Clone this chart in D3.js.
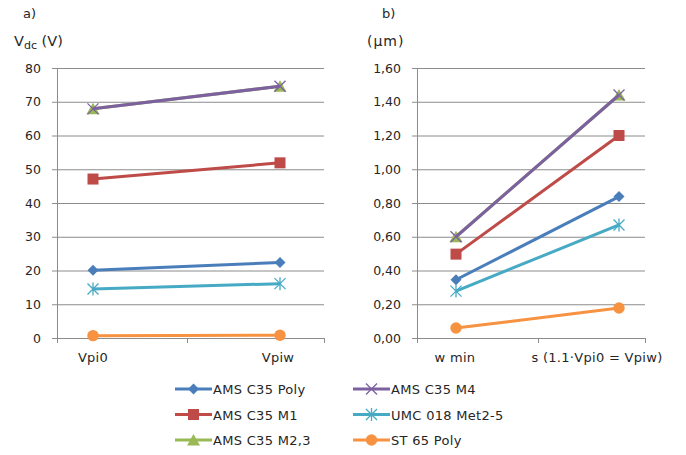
<!DOCTYPE html>
<html>
<head>
<meta charset="utf-8">
<script src="https://cdn.jsdelivr.net/npm/d3@7"></script>
<style>
  body { margin: 0; background: #fff; }
  text { font-family: 'DejaVu Sans', Verdana, sans-serif; fill: #262626; }
</style>
</head>
<body>
<div id="chart"></div>
<script>
const series = ['AMS C35 Poly', 'AMS C35 M1', 'AMS C35 M2,3', 'AMS C35 M4', 'UMC 018 Met2-5', 'ST 65 Poly'];
const colors = ['#4A7EBB', '#BE4B48', '#98B954', '#7D60A0', '#46AAC5', '#F69240'];
const markers = ['diamond', 'square', 'triangle', 'x', 'star', 'circle'];

const catsA = ['Vpi0', 'Vpiw'];
const valuesA = [
  [20.1, 22.4],
  [47.1, 51.9],
  [67.9, 74.6],
  [67.9, 74.6],
  [14.5, 16.1],
  [0.7, 0.8],
];
const ticksA = [0, 10, 20, 30, 40, 50, 60, 70, 80];

const catsB = ['w min', 's (1.1·Vpi0 = Vpiw)'];
const valuesB = [
  [0.345, 0.838],
  [0.497, 1.2],
  [0.6, 1.44],
  [0.6, 1.44],
  [0.278, 0.67],
  [0.059, 0.178],
];
const ticksB = [0, 0.2, 0.4, 0.6, 0.8, 1.0, 1.2, 1.4, 1.6];

const legendOrder = [0, 3, 1, 4, 2, 5];

const svg = d3.select('#chart').append('svg').attr('width', 686).attr('height', 455);

function marker(g, type, color, x, y) {
  if (type === 'diamond') {
    g.append('path').attr('d', `M${x},${y - 5.5}L${x + 5.5},${y}L${x},${y + 5.5}L${x - 5.5},${y}Z`).attr('fill', color);
  } else if (type === 'square') {
    g.append('rect').attr('x', x - 5.5).attr('y', y - 5.5).attr('width', 11).attr('height', 11).attr('fill', color);
  } else if (type === 'triangle') {
    g.append('path').attr('d', `M${x},${y - 6}L${x + 6.5},${y + 5.5}L${x - 6.5},${y + 5.5}Z`).attr('fill', color);
  } else if (type === 'circle') {
    g.append('circle').attr('cx', x).attr('cy', y).attr('r', 5.7).attr('fill', color);
  } else {
    const p = `M${x - 5.5},${y - 5.5}L${x + 5.5},${y + 5.5}M${x + 5.5},${y - 5.5}L${x - 5.5},${y + 5.5}` + (type === 'star' ? `M${x},${y - 6.5}L${x},${y + 6.5}` : '');
    g.append('path').attr('d', p).attr('stroke', color).attr('stroke-width', 1.3).attr('fill', 'none');
  }
}

function panel(opt) {
  const g = svg.append('g');
  const y = d3.scaleLinear().domain([opt.ticks[0], opt.ticks[opt.ticks.length - 1]]).range([338, 68]);
  const x = d3.scalePoint().domain(opt.cats).range(opt.points);

  g.selectAll('.grid')
    .data(opt.ticks)
    .enter()
    .append('line')
    .attr('x1', opt.axisX - 5)
    .attr('x2', opt.right)
    .attr('y1', (d) => y(d) + 0.5)
    .attr('y2', (d) => y(d) + 0.5)
    .attr('stroke', '#8c8c8c')
    .attr('stroke-width', 1);

  g.append('line').attr('x1', opt.axisX + 0.5).attr('x2', opt.axisX + 0.5).attr('y1', 68).attr('y2', 338)
    .attr('stroke', '#8c8c8c');
  [opt.axisX, (opt.points[0] + opt.points[1]) / 2, opt.right].forEach((t) => {
    g.append('line').attr('x1', Math.round(t) + 0.5).attr('x2', Math.round(t) + 0.5).attr('y1', 338).attr('y2', 343)
      .attr('stroke', '#8c8c8c');
  });

  g.selectAll('.ytick')
    .data(opt.ticks)
    .enter()
    .append('text')
    .attr('x', opt.axisX - 16)
    .attr('y', (d) => y(d) + 4.5)
    .attr('text-anchor', 'end')
    .style('font-size', '12.5px')
    .text(opt.fmt);

  g.selectAll('.xtick')
    .data(opt.cats)
    .enter()
    .append('text')
    .attr('x', (d, i) => opt.labelX[i])
    .attr('y', 362)
    .attr('text-anchor', 'middle')
    .style('font-size', '13px')
    .style('letter-spacing', '0.3px')
    .text((d) => d);

  const line = d3.line().x((d, i) => x(opt.cats[i])).y((d) => y(d));
  opt.values.forEach((vals, s) => {
    g.append('path').attr('d', line(vals)).attr('fill', 'none').attr('stroke', colors[s]).attr('stroke-width', 3);
    vals.forEach((v, i) => marker(g, markers[s], colors[s], x(opt.cats[i]), y(v)));
  });
  return g;
}

panel({ cats: catsA, values: valuesA, ticks: ticksA, axisX: 57, right: 324, points: [93, 280], labelX: [93, 278], fmt: (d) => d });
panel({ cats: catsB, values: valuesB, ticks: ticksB, axisX: 417, right: 645, points: [456, 619], labelX: [455, 597], fmt: (d) => d.toFixed(2).replace('.', ',') });

svg.append('text').attr('x', 23).attr('y', 18).style('font-size', '13px').text('a)');
const vt = svg.append('text').attr('x', 14).attr('y', 46).style('font-size', '14.5px');
vt.append('tspan').text('V');
vt.append('tspan').attr('dy', 3).style('font-size', '11px').text('dc');
vt.append('tspan').attr('dy', -3).text(' (V)');
svg.append('text').attr('x', 382).attr('y', 18).style('font-size', '13px').text('b)');
svg.append('text').attr('x', 367).attr('y', 46).style('font-size', '14px').style('letter-spacing', '1px').text('(µm)');

const legend = svg.append('g');
legendOrder.forEach((s, k) => {
  const col = k % 2;
  const row = Math.floor(k / 2);
  const lx = col === 0 ? 175 : 353;
  const ly = 389 + row * 25.5;
  legend.append('line').attr('x1', lx).attr('x2', lx + 37).attr('y1', ly).attr('y2', ly).attr('stroke', colors[s]).attr('stroke-width', 3);
  marker(legend, markers[s], colors[s], lx + 18.5, ly);
  legend.append('text').attr('x', lx + 38).attr('y', ly + 5).style('font-size', '13px').style('letter-spacing', '0.3px').text(series[s]);
});
</script>
</body>
</html>
